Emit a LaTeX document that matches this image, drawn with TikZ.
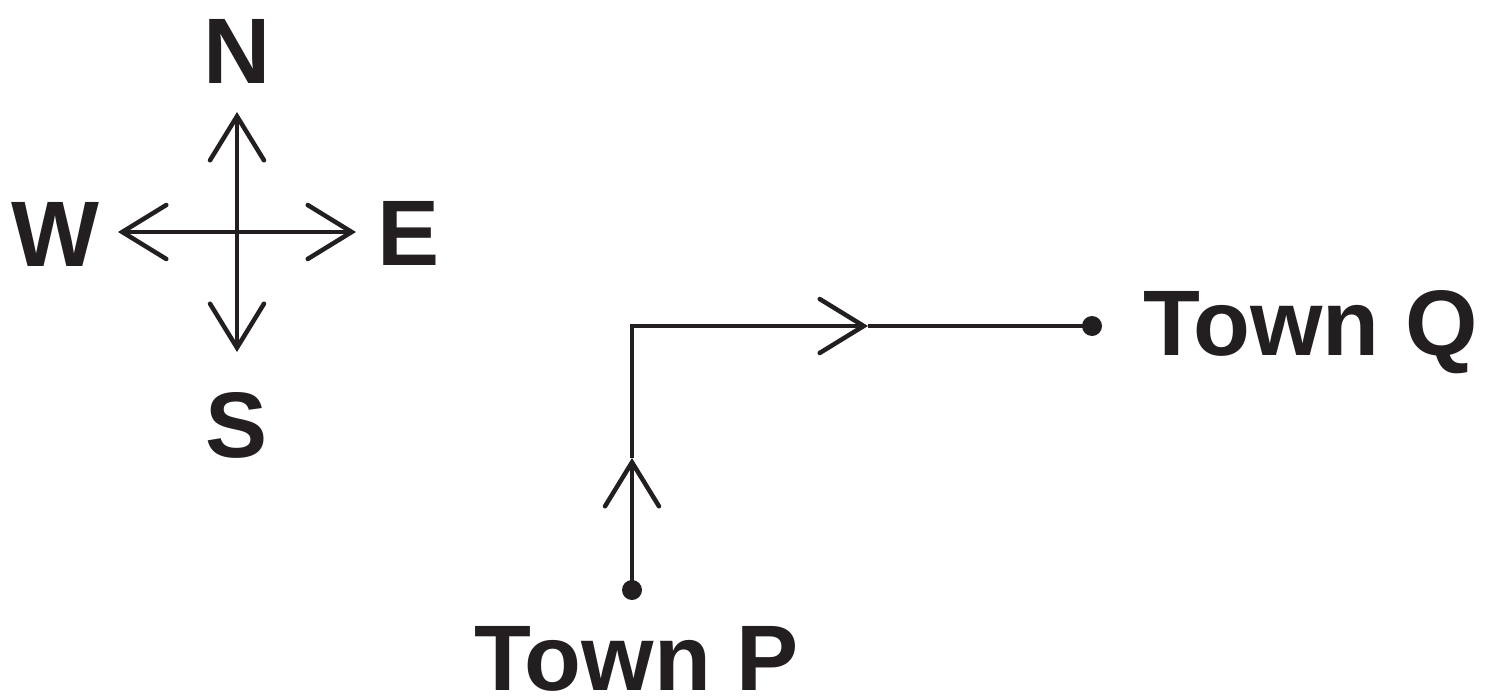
\documentclass[tikz,border=0pt]{standalone}
\usepackage{fontspec}
\setmainfont{Liberation Sans}
\usetikzlibrary{arrows.meta}
\definecolor{ink}{HTML}{231F20}

\begin{document}
\begin{tikzpicture}[x=0.02cm, y=-0.02cm, line width=0.09cm, color=ink,
  lbl/.style={font=\fontsize{53}{58}\selectfont\bfseries, text=ink, inner sep=0pt},
  barb/.style={-{Straight Barb[length=0.88cm, width=1.08cm, line cap=round]}},
  dot/.style={circle, fill=ink, inner sep=0pt, minimum size=0.4cm}]
\useasboundingbox (0,0) rectangle (1488,700);

% compass
\coordinate (c) at (237,232);
\coordinate (nTip) at (237,112);
\coordinate (sTip) at (237,352);
\coordinate (wTip) at (118,232);
\coordinate (eTip) at (356,232);
\draw[barb] (c) -- (nTip);
\draw[barb] (c) -- (sTip);
\draw[barb] (c) -- (wTip);
\draw[barb] (c) -- (eTip);
\node[lbl, anchor=base] (n) at (237,83) {N};
\node[lbl, anchor=base] (s) at (237,457) {S};
\node[lbl, anchor=base] (w) at (55,266) {W};
\node[lbl, anchor=base] (e) at (409,265) {E};

% route from P to Q
\node[dot] (P) at (632,590) {};
\node[dot] (Q) at (1092,326) {};
\coordinate (pmid) at (632,458);
\coordinate (qmid) at (868,326);
\draw[barb] (P.center) -- (pmid);
\draw[barb] (pmid) |- (qmid);
\draw (qmid) -- (Q.center);
\node[lbl, anchor=base] (townP) at (637,690) {Town P};
\node[lbl, anchor=base west] (townQ) at (1141,355) {Town Q};
\end{tikzpicture}
\end{document}
